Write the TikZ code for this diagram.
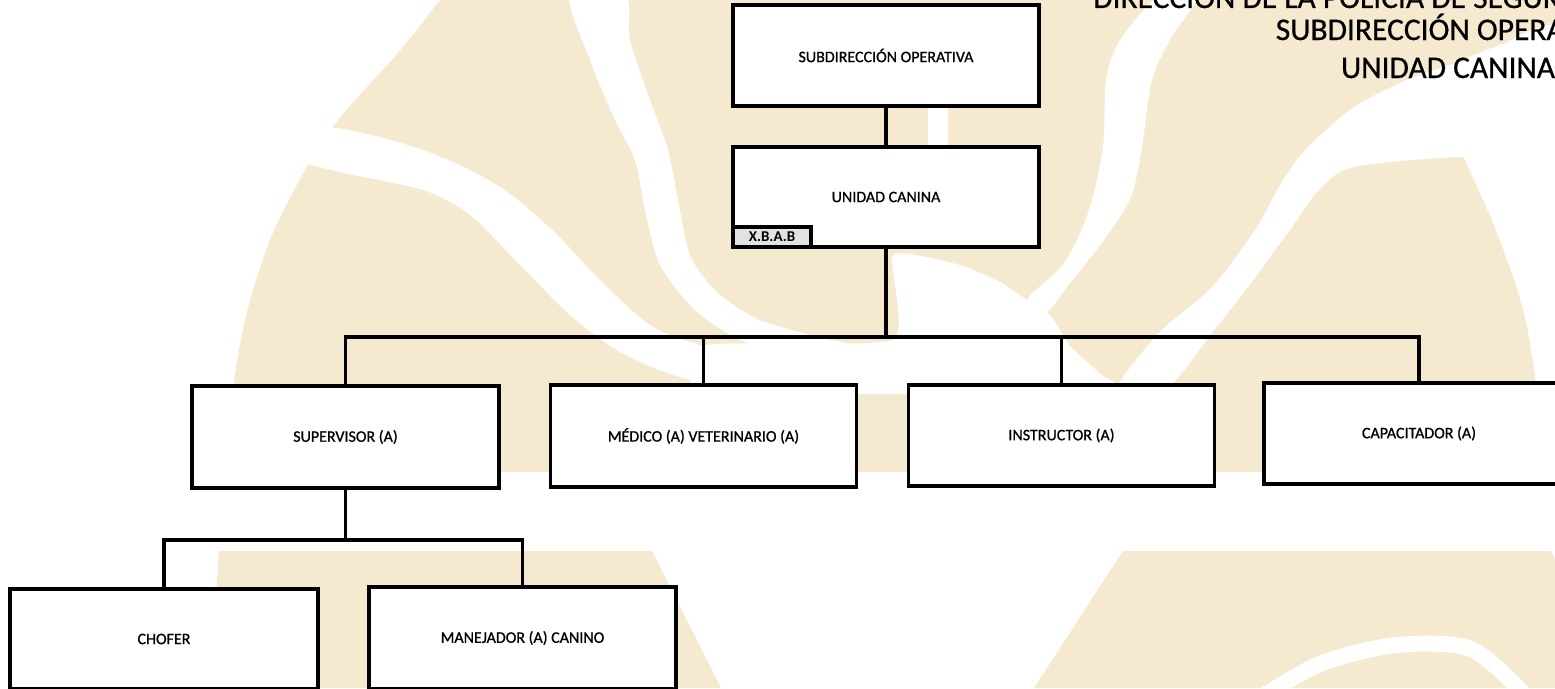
\documentclass[tikz,border=0pt]{standalone}
\usepackage{fontspec}
\setmainfont{Carlito}
\newfontfamily\labfont{Carlito}[FakeBold=0.9]
\newfontfamily\hdrfont{Carlito}[FakeBold=0.6]
\definecolor{wm}{RGB}{245,233,208}
\definecolor{xbabgray}{RGB}{226,226,226}
\begin{document}
\begin{tikzpicture}[x=1pt,y=-1pt,
  box/.style={draw=black, line width=3.2pt, fill=white, inner sep=0pt, font=\labfont\fontsize{16}{19}\selectfont},
  conn/.style={draw=black, line width=3.2pt},
  hdr/.style={font=\hdrfont\fontsize{31.5}{36}\selectfont, inner sep=0pt},
  cut/.style={fill=white}]
\useasboundingbox (0,0) rectangle (1555,688);
\clip (0,0) rectangle (1555,688);
\fill[white] (0,0) rectangle (1555,688);

% ---- watermark (beige emblem) ----
\fill[wm] (440,0) -- (1560,0) -- (1560,472) -- (232,472)
  -- plot[smooth] coordinates {(232,472)(232,400)(245,320)(270,240)(308,165)(343,114)(398,53)(440,0)} -- cycle;
% band A
\fill[cut] plot[smooth cycle, tension=0.5] coordinates {(300,158)(330,128)(423,150)(497,185)(550,228)(600,280)(650,325)(700,345)(760,362)(740,384)(680,377)(620,352)(570,315)(520,265)(470,215)(423,190)(340,172)};
% band B
\fill[cut] plot[smooth cycle, tension=0.5] coordinates {(570,-5)(590,60)(615,120)(635,160)(645,210)(660,265)(695,310)(740,340)(800,358)(860,368)(870,350)(810,335)(755,318)(715,290)(690,255)(678,200)(668,150)(650,100)(630,40)(625,-5)};
\fill[cut] (928,100) rectangle (948,150);
% band C
\fill[cut] plot[smooth cycle, tension=0.5] coordinates {(1160,-5)(1120,40)(1106,80)(1103,147)(1088,213)(1064,263)(1027,300)(1046,312)(1071,282)(1106,237)(1131,197)(1142,147)(1152,80)(1170,40)(1198,-5)};
% white area below the unit
\fill[cut] plot[smooth cycle, tension=0.3] coordinates {(893,255)(960,265)(1000,282)(1030,302)(1050,315)(1071,347)(1099,373)(1105,392)(707,392)(707,345)(893,340)};
% band E and top-right wedge
\fill[cut] plot[smooth cycle, tension=0.5] coordinates {(1117,390)(1159,333)(1212,287)(1255,230)(1283,180)(1308,147)(1354,107)(1407,80)(1450,65)(1500,45)(1560,30)(1560,158)(1460,157)(1354,167)(1319,190)(1290,230)(1248,287)(1212,333)(1165,390)};
\fill[cut] plot[smooth, tension=0.5] coordinates {(1460,150)(1496,230)(1524,313)(1537,390)} -- (1560,390) -- (1560,150) -- cycle;
% bottom parts
\fill[wm] (219,551) -- (652,551) -- (721,688) -- (210,688) -- cycle;
\fill[wm] (1123,551) -- (1551,551) -- (1560,570) -- (1560,688) -- (1034,688) -- cycle;
\draw[white, line width=16pt] plot[smooth] coordinates {(1265,695)(1322,663)(1397,645)(1471,649)(1525,695)};

% ---- header ----
\node[hdr, anchor=base west] (h1) at (1093,8) {DIRECCIÓN DE LA POLICÍA DE SEGURIDAD PÚBLICA};
\node[hdr, anchor=base] (h2) at (1448,40) {SUBDIRECCIÓN OPERATIVA};
\node[hdr, anchor=base] (h3) at (1448,78) {UNIDAD CANINA};

% ---- boxes ----
\node[box, minimum width=306pt, minimum height=101pt] (sub) at (886,55.5) {SUBDIRECCIÓN OPERATIVA};
\node[box, minimum width=306pt, minimum height=100pt] (uc) at (886,197) {UNIDAD CANINA};
\node[box, fill=xbabgray, minimum width=78pt, minimum height=20pt, font=\fontsize{15}{17}\selectfont\bfseries] (xbab) at (772,237) {X.B.A.B};

\node[box, minimum width=307pt, minimum height=102pt] (sup) at (345.5,437) {SUPERVISOR (A)};
\node[box, minimum width=306pt, minimum height=102pt] (med) at (703.5,436) {MÉDICO (A) VETERINARIO (A)};
\node[box, minimum width=306pt, minimum height=101pt] (ins) at (1061.5,435.5) {INSTRUCTOR (A)};
\node[box, minimum width=310pt, minimum height=101pt] (cap) at (1419,433.5) {CAPACITADOR (A)};

\node[box, minimum width=308pt, minimum height=100pt] (cho) at (164,639) {CHOFER};
\node[box, minimum width=307pt, minimum height=102pt] (man) at (522.5,638) {MANEJADOR (A) CANINO};

% ---- connectors ----
\coordinate (bus) at (886,337);
\coordinate (sbus) at (346,540);
\draw[conn] (sub.south) -- (uc.north);
\draw[conn] (uc.south) -- (bus);
\draw[conn] (sup.north) |- (bus) -| (cap.north);
\draw[conn] (med.north) -- (med.north |- bus);
\draw[conn] (ins.north) -- (ins.north |- bus);
\draw[conn] (sup.south) -- (sup.south |- sbus);
\draw[conn] (cho.north) |- (sbus) -| (man.north);
\end{tikzpicture}
\end{document}
